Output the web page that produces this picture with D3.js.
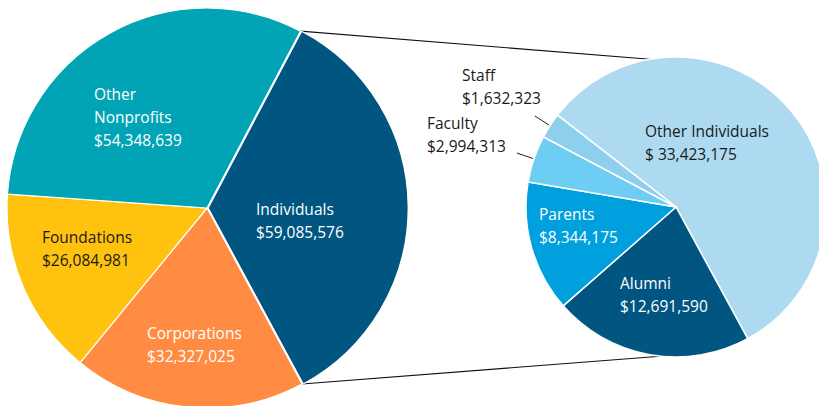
<!DOCTYPE html>
<html>
<head>
<meta charset="utf-8">
<script src="https://cdn.jsdelivr.net/npm/d3@7"></script>
<style>
  body { margin: 0; background: #fff; }
  svg text { font-family: "Open Sans", "Noto Sans", sans-serif; font-size: 15.5px; }
</style>
</head>
<body>
<svg id="chart" width="819" height="406"></svg>
<script>
// Left pie: all gifts by source
const leftCategories = ["Individuals", "Corporations", "Foundations", "Other Nonprofits"];
const leftValues = [59085576, 32327025, 26084981, 54348639];
const leftLabels = [
  ["Individuals", "$59,085,576"],
  ["Corporations", "$32,327,025"],
  ["Foundations", "$26,084,981"],
  ["Other", "Nonprofits", "$54,348,639"]
];

// Right pie: breakdown of Individuals
const rightCategories = ["Other Individuals", "Alumni", "Parents", "Faculty", "Staff"];
const rightValues = [33423175, 12691590, 8344175, 2994313, 1632323];
const rightLabels = [
  ["Other Individuals", "$ 33,423,175"],
  ["Alumni", "$12,691,590"],
  ["Parents", "$8,344,175"],
  ["Faculty", "$2,994,313"],
  ["Staff", "$1,632,323"]
];

const leftColors = ["#005581", "#FF8C42", "#FFC20E", "#00A4B4"];
const leftText = ["#fff", "#fff", "#1a1a1a", "#fff"];
const rightColors = ["#ADDAF1", "#005581", "#009FDD", "#6DCDF3", "#8FCFEE"];
const rightText = ["#1a1a1a", "#fff", "#fff", "#1a1a1a", "#1a1a1a"];

// label anchors relative to each pie centre (start of text, first baseline)
const leftLabelPos = [[49, 7], [-60, 131], [-165, 35], [-113, -108]];
const rightLabelPos = [[-31, -70], [-56, 82], [-137, 13], [-249, -78], [-214, -126]];
const lineH = 23;

const deg = Math.PI / 180;
const svg = d3.select("#chart");

const L = { cx: 207, cy: 208, r: 200, start: 27.85 };
const R = { cx: 676, cy: 207, r: 150, start: 307.8 };

const pieL = d3.pie().sort(null).startAngle(L.start * deg).endAngle((L.start + 360) * deg);
const pieR = d3.pie().sort(null).startAngle(R.start * deg).endAngle((R.start + 360) * deg);
const arcsL = pieL(leftValues);
const arcsR = pieR(rightValues);

const arcL = d3.arc().innerRadius(0).outerRadius(L.r);
const arcR = d3.arc().innerRadius(0).outerRadius(R.r);

const pt = (c, r, a) => [c.cx + r * Math.sin(a), c.cy - r * Math.cos(a)];

// connector lines from the Individuals slice to the breakdown pie
const ind = arcsL[0];
const connectors = [
  [pt(L, L.r, ind.startAngle), pt(R, R.r, -10 * deg)],
  [pt(L, L.r, ind.endAngle), pt(R, R.r, 186 * deg)]
];
svg.append("g").selectAll("line").data(connectors).enter().append("line")
  .attr("x1", d => d[0][0]).attr("y1", d => d[0][1])
  .attr("x2", d => d[1][0]).attr("y2", d => d[1][1])
  .attr("stroke", "#111").attr("stroke-width", 1.1);

// left pie
const gL = svg.append("g").attr("transform", `translate(${L.cx},${L.cy})`);
gL.selectAll("path").data(arcsL).enter().append("path")
  .attr("d", arcL)
  .attr("transform", (d, i) => i === 0 ? "translate(1.2,0)" : null)
  .attr("fill", (d, i) => leftColors[i])
  .attr("stroke", "#fff").attr("stroke-width", 1.2);

// right pie
const gR = svg.append("g").attr("transform", `translate(${R.cx},${R.cy})`);
gR.selectAll("path").data(arcsR).enter().append("path")
  .attr("d", arcR)
  .attr("fill", (d, i) => rightColors[i])
  .attr("stroke", "#fff").attr("stroke-width", 1.5);

// leader lines for the small slices
const leaderArc = d3.arc().innerRadius(R.r + 1).outerRadius(R.r + 1);
const leaderOut = d3.arc().innerRadius(R.r + 18).outerRadius(R.r + 18);
gR.selectAll("line.leader").data(arcsR.slice(3)).enter().append("line")
  .attr("class", "leader")
  .attr("x1", d => leaderArc.centroid(d)[0]).attr("y1", d => leaderArc.centroid(d)[1])
  .attr("x2", d => leaderOut.centroid(d)[0]).attr("y2", d => leaderOut.centroid(d)[1])
  .attr("stroke", "#222").attr("stroke-width", 1);

function addLabels(g, labels, pos, colors) {
  labels.forEach((lines, i) => {
    const t = g.append("text")
      .attr("x", pos[i][0]).attr("y", pos[i][1])
      .attr("fill", colors[i]);
    lines.forEach((s, j) => {
      t.append("tspan").attr("x", pos[i][0]).attr("y", pos[i][1] + j * lineH).text(s);
    });
  });
}
addLabels(gL, leftLabels, leftLabelPos, leftText);
addLabels(gR, rightLabels, rightLabelPos, rightText);
</script>
</body>
</html>
